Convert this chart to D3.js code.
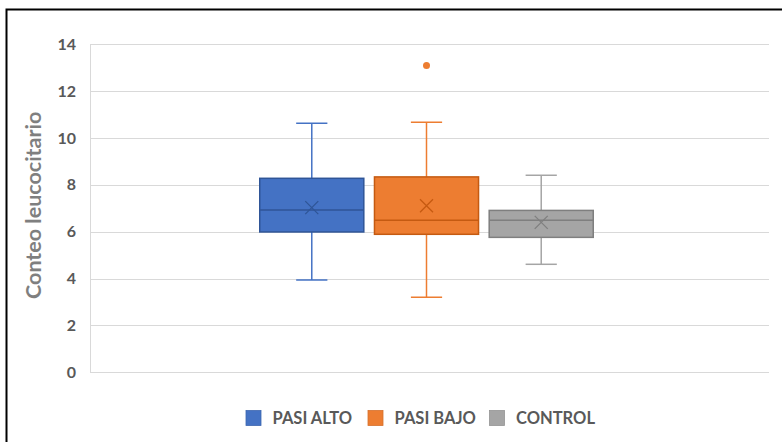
<!DOCTYPE html>
<html>
<head>
<meta charset="utf-8">
<script src="https://cdn.jsdelivr.net/npm/d3@7"></script>
<style>
  html, body { margin: 0; padding: 0; background: #fff; }
  svg { display: block; }
</style>
</head>
<body>
<svg id="chart" width="782" height="442"></svg>
<script>
// Leukocyte count by group (box-and-whisker summary)
const series = ["PASI ALTO", "PASI BAJO", "CONTROL"];
const fills = ["#4472C4", "#ED7D31", "#A5A5A5"];
const strokes = ["#2F5597", "#C55A11", "#7F7F7F"];
const whiskerMin = [3.94, 3.2, 4.61];
const q1 = [5.99, 5.89, 5.76];
const median = [6.93, 6.49, 6.49];
const q3 = [8.28, 8.34, 6.91];
const whiskerMax = [10.63, 10.67, 8.41];
const mean = [7.03, 7.11, 6.40];
const outliers = [[], [13.1], []];
const yTicks = [0, 2, 4, 6, 8, 10, 12, 14];
const yTitle = "Conteo leucocitario";

const svg = d3.select("#chart");
const font = "Lato, 'Open Sans', sans-serif";

// chart frame
svg.append("path")
  .attr("d", "M6.5,442 V9.5 H782")
  .attr("fill", "none").attr("stroke", "#000").attr("stroke-width", 2);

const plotLeft = 90, plotRight = 769, plotTop = 44.3, plotBottom = 372.3;

const y = d3.scaleLinear().domain([0, 14]).range([plotBottom, plotTop]);

// single category band holding the three series
const xGroup = d3.scaleBand().domain(["g"]).range([plotLeft - 6, plotRight]).paddingOuter(0.527);
const xSeries = d3.scaleBand().domain(series).range([xGroup("g"), xGroup("g") + xGroup.bandwidth()]).paddingInner(0.093);

// gridlines
svg.append("g").selectAll("line").data(yTicks).join("line")
  .attr("x1", plotLeft).attr("x2", plotRight)
  .attr("y1", d => Math.round(y(d)) + 0.5).attr("y2", d => Math.round(y(d)) + 0.5)
  .attr("stroke", "#d9d9d9").attr("stroke-width", 1);
svg.append("line")
  .attr("x1", plotLeft + 0.5).attr("x2", plotLeft + 0.5)
  .attr("y1", y(14)).attr("y2", y(0))
  .attr("stroke", "#d9d9d9");

// y axis labels
const yAxis = d3.axisLeft(y).tickValues(yTicks).tickSize(0).tickPadding(14);
const gy = svg.append("g").attr("transform", `translate(${plotLeft},0)`).call(yAxis);
gy.select(".domain").remove();
gy.selectAll("text")
  .attr("font-family", font).attr("font-weight", "bold").attr("font-size", 16)
  .attr("fill", "#595959");

// y title
svg.append("text")
  .attr("transform", `translate(41,${(plotTop + plotBottom) / 2 - 3}) rotate(-90)`)
  .attr("text-anchor", "middle")
  .attr("font-family", font).attr("font-weight", "bold").attr("font-size", 21.5)
  .attr("fill", "#7f7f7f")
  .text(yTitle);

// boxes
const boxes = svg.append("g").selectAll("g").data(series).join("g");
boxes.each(function (s, i) {
  const g = d3.select(this);
  const x0 = xSeries(s), w = xSeries.bandwidth(), cx = x0 + w / 2;
  const capW = w * 0.3;
  // whiskers
  g.append("line").attr("x1", cx).attr("x2", cx).attr("y1", y(q3[i])).attr("y2", y(whiskerMax[i]))
    .attr("stroke", fills[i]).attr("stroke-width", 1.5);
  g.append("line").attr("x1", cx).attr("x2", cx).attr("y1", y(q1[i])).attr("y2", y(whiskerMin[i]))
    .attr("stroke", fills[i]).attr("stroke-width", 1.5);
  g.append("line").attr("x1", cx - capW / 2).attr("x2", cx + capW / 2)
    .attr("y1", y(whiskerMax[i])).attr("y2", y(whiskerMax[i]))
    .attr("stroke", fills[i]).attr("stroke-width", 1.5);
  g.append("line").attr("x1", cx - capW / 2).attr("x2", cx + capW / 2)
    .attr("y1", y(whiskerMin[i])).attr("y2", y(whiskerMin[i]))
    .attr("stroke", fills[i]).attr("stroke-width", 1.5);
  // box
  g.append("rect").attr("x", x0).attr("width", w)
    .attr("y", y(q3[i])).attr("height", y(q1[i]) - y(q3[i]))
    .attr("fill", fills[i]).attr("stroke", strokes[i]).attr("stroke-width", 1.5);
  // median
  g.append("line").attr("x1", x0).attr("x2", x0 + w)
    .attr("y1", y(median[i])).attr("y2", y(median[i]))
    .attr("stroke", strokes[i]).attr("stroke-width", 1.5);
  // mean marker
  const m = 6.5, my = y(mean[i]);
  g.append("path")
    .attr("d", `M${cx - m},${my - m}L${cx + m},${my + m}M${cx - m},${my + m}L${cx + m},${my - m}`)
    .attr("stroke", strokes[i]).attr("stroke-width", 1.3).attr("fill", "none");
  // outliers
  g.selectAll("circle").data(outliers[i]).join("circle")
    .attr("cx", cx).attr("cy", d => y(d)).attr("r", 3.5)
    .attr("fill", fills[i]);
});

// legend
const legendItems = [
  { name: series[0], x: 246 },
  { name: series[1], x: 368 },
  { name: series[2], x: 489.5 }
];
const lg = svg.append("g").selectAll("g").data(legendItems).join("g")
  .attr("transform", d => `translate(${d.x},418)`);
lg.append("rect").attr("x", 0).attr("y", -7.5).attr("width", 15).attr("height", 15)
  .attr("fill", (d, i) => fills[i]).attr("stroke", (d, i) => d3.color(fills[i]).darker(0.3)).attr("stroke-width", 0.8);
lg.append("text").attr("x", 26.5).attr("y", 5.8)
  .attr("font-family", font).attr("font-weight", "bold").attr("font-size", 16.5)
  .attr("fill", "#595959")
  .text(d => d.name);
</script>
</body>
</html>
